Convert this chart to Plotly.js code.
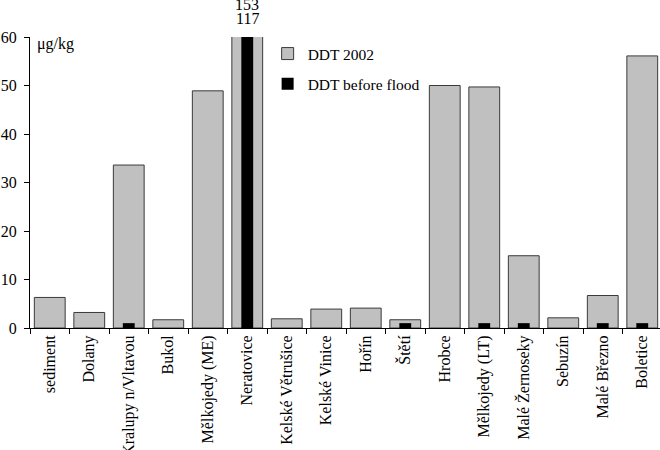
<!DOCTYPE html>
<html>
<head>
<meta charset="utf-8">
<script src="https://cdn.plot.ly/plotly-3.0.1.min.js"></script>
<style>
html,body{margin:0;padding:0;overflow:hidden;background:#fff;}
#chart{width:662px;height:450px;}
</style>
</head>
<body>
<div id="chart"></div>
<script>
const categories = ["sediment","Dolany","Kralupy n/Vltavou","Bukol","Mělkojedy (ME)","Neratovice","Kelské Větrušice","Kelské Vinice","Hořín","Štětí","Hrobce","Mělkojedy (LT)","Malé Žernoseky","Sebuzín","Malé Březno","Boletice"];
const ddt2002 = [6.3,3.2,33.6,1.7,48.9,153,1.9,3.9,4.1,1.7,50.0,49.7,14.9,2.1,6.7,56.1];
const ddtBefore = [null,null,1.0,null,null,117,null,null,null,1.0,null,1.0,1.0,null,1.0,1.0];
const yTicks = [0,10,20,30,40,50,60];

const font = "Liberation Serif";
const traces = [
  {type:"bar", x:categories, y:ddt2002, name:"DDT 2002", width:0.78,
   marker:{color:"#c0c0c0", line:{color:"#3a3a3a", width:1}}, legendgroup:"a", hoverinfo:"x+y"},
  {type:"bar", x:categories, y:ddtBefore, name:"DDT before flood", width:0.3,
   marker:{color:"#000000", line:{color:"#000000", width:0}}, legendgroup:"b", hoverinfo:"x+y"}
];
const iNer = categories.indexOf("Neratovice");
const layout = {
  width:662, height:450,
  margin:{l:30, r:0, t:37, b:122},
  paper_bgcolor:"#fff", plot_bgcolor:"#fff",
  font:{family:font, size:16, color:"#000"},
  barmode:"overlay",
  showlegend:true,
  legend:{x:0.376, y:1.0, xanchor:"left", yanchor:"top", bgcolor:"rgba(0,0,0,0)",
          font:{family:font, size:15.5}, traceorder:"grouped", tracegroupgap:7, itemwidth:30},
  xaxis:{type:"category", showgrid:false, zeroline:false, showline:true, linecolor:"#000", linewidth:1,
         ticks:"outside", tickson:"boundaries", ticklen:5, tickcolor:"#000", tickangle:-90,
         tickfont:{family:font, size:16}, fixedrange:true},
  yaxis:{range:[0,60], tickvals:yTicks, showgrid:false, zeroline:false, showline:true, linecolor:"#000", linewidth:1,
         ticks:"outside", ticklen:5, tickcolor:"#000", tickfont:{family:font, size:16}, ticklabelstandoff:4, fixedrange:true},
  annotations:[
    {xref:"paper", yref:"paper", x:0.008, y:1.0, xanchor:"left", yanchor:"top", yshift:4,
     text:"μg/kg", showarrow:false, font:{family:font, size:16}},
    {xref:"x", yref:"paper", x:categories[iNer], y:1.062, xanchor:"center", yanchor:"middle", borderpad:0,
     text:String(ddtBefore[iNer]), showarrow:false, font:{family:font, size:16}},
    {xref:"x", yref:"paper", x:categories[iNer], y:1.112, xanchor:"center", yanchor:"middle", borderpad:0,
     text:String(ddt2002[iNer]), showarrow:false, font:{family:font, size:16}}
  ]
};
Plotly.newPlot("chart", traces, layout, {displayModeBar:false, staticPlot:true});
</script>
</body>
</html>
